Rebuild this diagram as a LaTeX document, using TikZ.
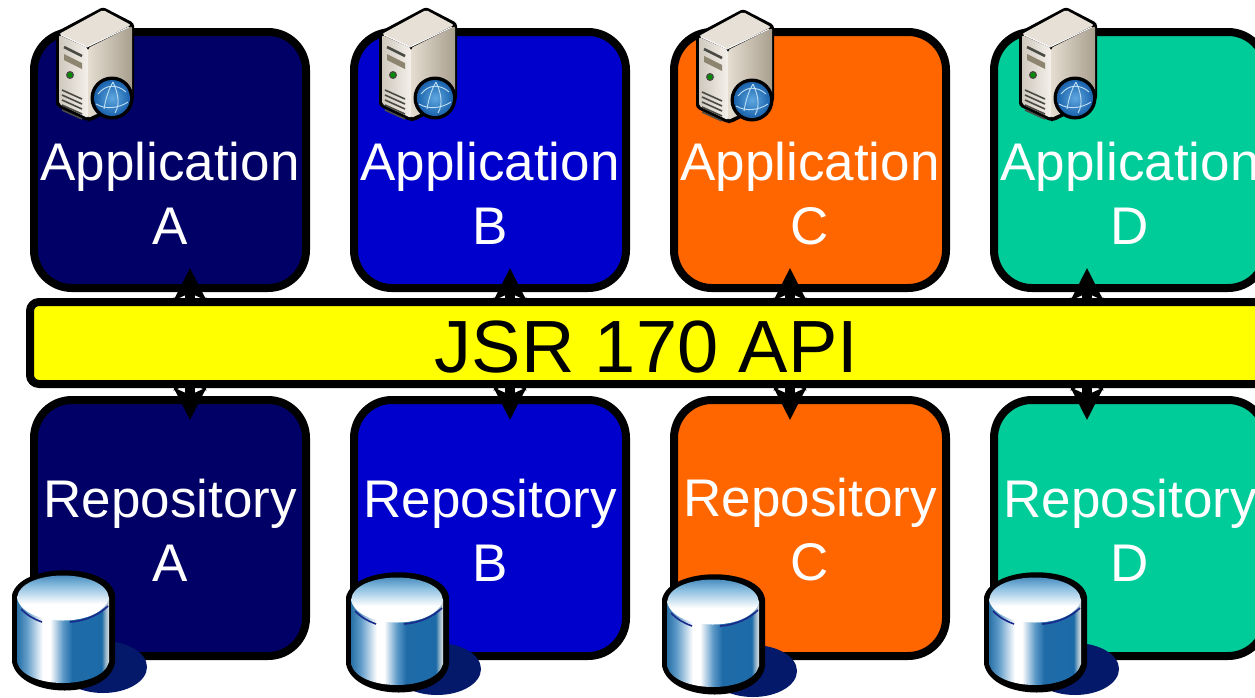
\documentclass[tikz,border=0pt]{standalone}
\usepackage{fontspec}
\setmainfont{Liberation Sans}
\usetikzlibrary{arrows.meta,calc}
\definecolor{colA}{HTML}{000066}
\definecolor{colB}{HTML}{0000CC}
\definecolor{colC}{HTML}{FF6600}
\definecolor{colD}{HTML}{00CC99}
\definecolor{barY}{HTML}{FFFF00}
\definecolor{shadowC}{HTML}{04196A}
\definecolor{srvTop}{HTML}{E6E0D6}
\definecolor{srvFa}{HTML}{CFC9BE}
\definecolor{srvFb}{HTML}{F4F0EA}
\definecolor{srvSa}{HTML}{E4DDD0}
\definecolor{srvSb}{HTML}{A99F8F}
\definecolor{srvDark}{HTML}{4A4A44}
\definecolor{srvSlot}{HTML}{8E8570}
\definecolor{globeIn}{HTML}{5FA8E0}
\definecolor{globeOut}{HTML}{1A62AC}
\definecolor{globeLine}{HTML}{BFE0F5}
\definecolor{arcC}{HTML}{1A2A8A}
\pgfdeclarehorizontalshading{cylbody}{100bp}{
 rgb(0bp)=(0.16,0.44,0.65);
 rgb(25bp)=(0.16,0.44,0.65);
 rgb(30bp)=(0.36,0.60,0.78);
 rgb(39bp)=(1,1,1);
 rgb(43bp)=(1,1,1);
 rgb(50bp)=(0.36,0.60,0.78);
 rgb(55bp)=(0.12,0.42,0.66);
 rgb(71bp)=(0.11,0.42,0.66);
 rgb(73bp)=(0.56,0.69,0.78);
 rgb(75bp)=(0.86,0.89,0.90);
 rgb(100bp)=(0.86,0.89,0.90)}
\pgfdeclareverticalshading{cyltop}{100bp}{
 rgb(0bp)=(1,1,1);
 rgb(25bp)=(1,1,1);
 rgb(45bp)=(1,1,1);
 rgb(60bp)=(0.55,0.75,0.88);
 rgb(75bp)=(0.11,0.42,0.66);
 rgb(100bp)=(0.11,0.42,0.66)}
\tikzset{
 x=1pt,y=-1pt,
 panel/.style={draw=black,line width=8pt,rounded corners=38pt,minimum width=272pt,minimum height=256pt,inner sep=0pt},
 paneltext/.style={text=white,font=\fontsize{53}{64}\selectfont,align=center,inner sep=0pt},
 apibar/.style={draw=black,fill=barY,line width=8pt,rounded corners=9pt,minimum width=1300pt,minimum height=82pt,inner sep=0pt},
 link/.style={line width=10pt,{Stealth[length=32pt,width=32pt,inset=7pt]}-{Stealth[length=32pt,width=32pt,inset=7pt]}},
 servericon/.pic={
  \fill[black,rounded corners=3pt] (46,-3)--(-1,22)--(-1,96)--(30,111)--(34,111)--(77,90)--(77,13)--cycle;
  \fill[srvTop,rounded corners=2pt] (46,0)--(2,24)--(30,37)--(74,15)--cycle;
  \shade[left color=srvFa,right color=srvFb,rounded corners=2pt] (2,25)--(31,38)--(31,108)--(2,94)--cycle;
  \shade[left color=srvSa,right color=srvSb,rounded corners=2pt] (31,38)--(75,16)--(75,88)--(31,108)--cycle;
  \draw[white,line width=1pt] (4,25)--(30,37)--(72,17);
  \draw[srvDark,line width=2.5pt] (7,37)--(25,46);
  \fill[srvSlot] (7,44)--(25,53)--(25,59)--(7,50)--cycle;
  \fill[srvDark] (13,65) circle (4);
  \fill[green!55!black] (13,65) circle (2.5);
  \foreach \k in {0,5,10,15,20}{\draw[srvDark,line width=1.6pt] (5,80+\k)--(25,89+\k);}
  \fill[black] (55,88) circle (21.5);
  \shade[inner color=globeIn,outer color=globeOut] (55,88) circle (18);
  \draw[globeLine,line width=.9pt] (41,84) .. controls (49,74) and (60,74) .. (69,82)
    (47,99) .. controls (49,87) and (52,79) .. (56,72) (58,103) .. controls (64,93) and (60,81) .. (56,72)
    (39,94) .. controls (49,100) and (62,98) .. (71,92);
 },
 dbicon/.pic={
  \fill[shadowC] (93,97) ellipse (44 and 26);
  \fill[black] (2,25) -- (2,92) .. controls (10,130) and (100,130) .. (105,92) -- (105,25) .. controls (100,-8) and (10,-8) .. (2,25) -- cycle;
  \shade[shading=cylbody] (7,28) -- (7,92) .. controls (14,120) and (92,120) .. (99,92) -- (99,28) -- cycle;
  \shade[shading=cyltop] (7,28) .. controls (10,-2) and (96,-2) .. (99,28) .. controls (92,58) and (14,58) .. (7,28) -- cycle;
  \draw[arcC,line width=1.6pt] (11,39) .. controls (18,46) and (24,49) .. (32,52)
    (60,52) .. controls (76,51) and (90,44) .. (98,36);
 }
}
\begin{document}
\begin{tikzpicture}
\useasboundingbox (0,0) rectangle (1255,697);
\clip (0,0) rectangle (1255,697);
\foreach \n/\xc/\col in {A/170/colA,B/490/colB,C/810/colC,D/1130/colD}{
  \node[panel,fill=\col] (app\n) at (\xc,160) {};
  \node[panel,fill=\col] (rep\n) at (\xc,528) {};
}
\node[paneltext] (tappA) at (170,193.5) {Application\\A};
\node[paneltext] (tappB) at (490,193.5) {Application\\B};
\node[paneltext] (tappC) at (810,193.5) {Application\\C};
\node[paneltext] (tappD) at (1130,193.5) {Application\\D};
\node[paneltext] (trepA) at (170,530) {Repository\\A};
\node[paneltext] (trepB) at (490,530) {Repository\\B};
\node[paneltext] (trepC) at (810,530) {Repository\\C};
\node[paneltext] (trepD) at (1130,530) {Repository\\D};
\foreach \n/\xa in {A/190,B/510,C/790,D/1087}{
  \coordinate (up\n) at (\xa,268);
  \coordinate (dn\n) at (\xa,420);
  \coordinate (mid\n) at (\xa,330);
  \coordinate (mie\n) at (\xa,358);
  \draw[link] (up\n) -- (mid\n);
  \draw[link] (dn\n) -- (mie\n);
}
\node[apibar] (bar) at (680,343) {};
\node[font=\fontsize{74}{80}\selectfont,inner sep=0pt] (api) at (646.5,347.5) {JSR 170 API};
\pic at (57,10) {servericon};
\pic at (380,10) {servericon};
\pic at (697,12) {servericon};
\pic at (1020,10) {servericon};
\pic at (10,570) {dbicon};
\pic at (344,572) {dbicon};
\pic at (660,574) {dbicon};
\pic at (982,572) {dbicon};
\end{tikzpicture}
\end{document}
